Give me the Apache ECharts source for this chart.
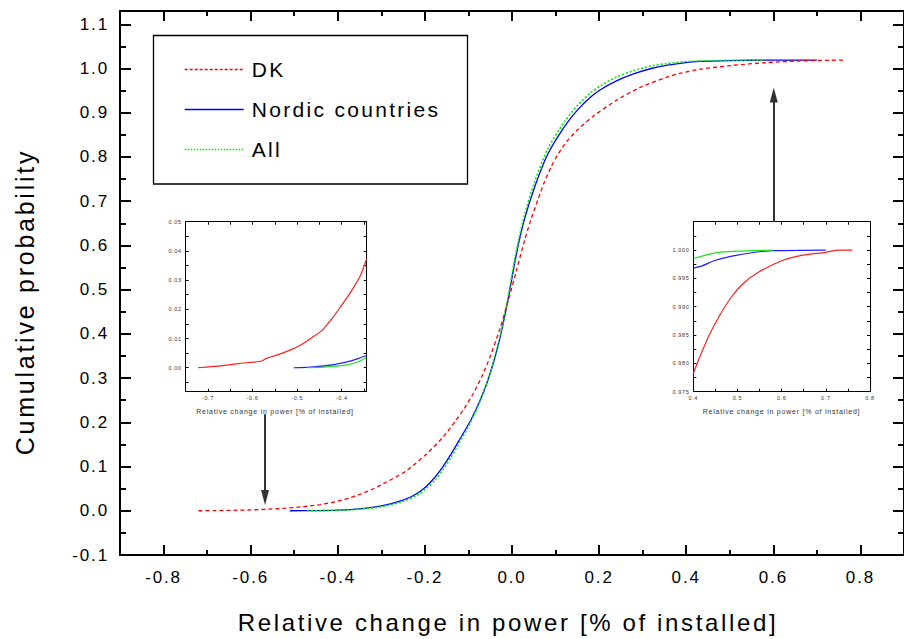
<!DOCTYPE html>
<html>
<head>
<meta charset="utf-8">
<script src="https://cdn.jsdelivr.net/npm/echarts@6/dist/echarts.min.js"></script>
<style>
html, body { margin: 0; padding: 0; background: #fff; }
#chart { width: 904px; height: 639px; }
/* the original export uses wide letter spacing */
#chart text { letter-spacing: 0.11em; }
</style>
</head>
<body>
<div id="chart"></div>
<script>
// ---- main plot curves [x, cumulative probability] ----
var dk = [[-0.72,0],[-0.68,0.0004],[-0.64,0.0011],[-0.60,0.002],[-0.56,0.0036],[-0.52,0.0058],[-0.48,0.0092],[-0.44,0.014],[-0.40,0.0215],[-0.36,0.033],[-0.32,0.049],[-0.288,0.065],[-0.243,0.090],[-0.197,0.128],[-0.159,0.166],[-0.129,0.204],[-0.11,0.231],[-0.09,0.263],[-0.07,0.302],[-0.05,0.349],[-0.03,0.405],[-0.01,0.470],[0.01,0.543],[0.03,0.615],[0.043,0.657],[0.06,0.705],[0.075,0.745],[0.09,0.778],[0.105,0.805],[0.125,0.834],[0.15,0.861],[0.188,0.893],[0.241,0.929],[0.294,0.957],[0.354,0.980],[0.39,0.990],[0.43,0.998],[0.506,1.007],[0.581,1.013],[0.657,1.017],[0.76,1.019]];
var nordic = [[-0.51,0],[-0.45,0.0005],[-0.40,0.0016],[-0.35,0.0045],[-0.30,0.011],[-0.25,0.024],[-0.22,0.038],[-0.197,0.055],[-0.175,0.078],[-0.159,0.099],[-0.14,0.128],[-0.122,0.158],[-0.095,0.204],[-0.07,0.257],[-0.05,0.311],[-0.03,0.381],[-0.01,0.473],[0.01,0.58],[0.028,0.657],[0.052,0.732],[0.082,0.806],[0.12,0.868],[0.15,0.906],[0.18,0.935],[0.203,0.952],[0.24,0.972],[0.279,0.988],[0.32,1.000],[0.354,1.007],[0.39,1.012],[0.43,1.016],[0.5,1.018],[0.6,1.019],[0.70,1.019]];
var all = [[-0.47,0],[-0.43,0.0003],[-0.40,0.0009],[-0.35,0.0035],[-0.30,0.009],[-0.25,0.021],[-0.22,0.034],[-0.197,0.050],[-0.175,0.071],[-0.159,0.092],[-0.14,0.121],[-0.122,0.152],[-0.095,0.200],[-0.07,0.255],[-0.05,0.311],[-0.03,0.384],[-0.01,0.478],[0.01,0.588],[0.028,0.666],[0.052,0.744],[0.082,0.818],[0.12,0.879],[0.15,0.916],[0.18,0.945],[0.203,0.961],[0.24,0.981],[0.279,0.995],[0.32,1.006],[0.354,1.011],[0.39,1.015],[0.43,1.017],[0.5,1.0185],[0.58,1.019]];

// ---- left inset (lower tail) ----
var leftDK = [[-0.7226,0],[-0.666,0.0007],[-0.629,0.0015],[-0.598,0.0019],[-0.58,0.0023],[-0.568,0.0033],[-0.546,0.0043],[-0.512,0.0063],[-0.493,0.0077],[-0.467,0.0103],[-0.444,0.0128],[-0.422,0.0168],[-0.403,0.0208],[-0.38,0.0259],[-0.358,0.0316],[-0.344,0.0373]];
var leftNordic = [[-0.508,0],[-0.463,0.0003],[-0.418,0.0011],[-0.388,0.002],[-0.362,0.0032],[-0.344,0.0042]];
var leftAll = [[-0.478,0],[-0.433,0.0003],[-0.395,0.0008],[-0.369,0.0017],[-0.344,0.0034]];

// ---- right inset (upper tail) ----
var rightDK = [[0.4,0.9782],[0.415,0.9812],[0.438,0.9853],[0.46,0.9885],[0.487,0.9918],[0.513,0.9941],[0.55,0.9962],[0.603,0.9982],[0.648,0.9991],[0.70,0.9996],[0.73,1.0],[0.76,1.0]];
var rightNordic = [[0.4,0.9968],[0.42,0.9972],[0.45,0.9982],[0.5,0.9991],[0.55,0.9997],[0.58,0.9999],[0.7,1.0]];
var rightAll = [[0.4,0.9985],[0.45,0.9995],[0.5,0.9998],[0.58,1.0]];

// ---- ticks ----
var xMajor = [-0.8,-0.6,-0.4,-0.2,0,0.2,0.4,0.6,0.8];
var xMinor = [-0.9,-0.7,-0.5,-0.3,-0.1,0.1,0.3,0.5,0.7,0.9];
var yMajor = [-0.1,0,0.1,0.2,0.3,0.4,0.5,0.6,0.7,0.8,0.9,1.0,1.1];
var yMinor = [-0.05,0.05,0.15,0.25,0.35,0.45,0.55,0.65,0.75,0.85,0.95,1.05];
var lxLabels = [-0.7,-0.6,-0.5,-0.4];
var lxTicks = [-0.75,-0.7,-0.65,-0.6,-0.55,-0.5,-0.45,-0.4,-0.35];
var lyLabels = [0,0.01,0.02,0.03,0.04,0.05];
var lyTicks = [-0.005,0,0.005,0.01,0.015,0.02,0.025,0.03,0.035,0.04,0.045,0.05];
var rxLabels = [0.4,0.5,0.6,0.7,0.8];
var rxTicks = [0.4,0.45,0.5,0.55,0.6,0.65,0.7,0.75,0.8];
var ryLabels = [0.975,0.98,0.985,0.99,0.995,1.0];
var ryTicks = [0.975,0.9775,0.98,0.9825,0.985,0.9875,0.99,0.9925,0.995,0.9975,1.0,1.0025];

var FONT = '"Liberation Sans", Arial, sans-serif';
var RED = '#ff0000', BLUE = '#0000ff', GREEN = '#00ee00';

function mkAxis(o) {
  return {
    type: 'value', gridIndex: o.grid, position: o.pos, min: o.min, max: o.max,
    axisLine: { show: o.line !== false, onZero: false, lineStyle: { color: '#000', width: o.lw || 1 } },
    axisTick: { show: true, inside: true, length: o.len, customValues: o.ticks,
      lineStyle: { color: '#000', width: o.tw || 1 } },
    axisLabel: o.labels ? {
      show: true, customValues: o.labels, showMinLabel: true, showMaxLabel: true,
      formatter: function (v) { return v.toFixed(o.dec); },
      fontSize: o.fs, fontFamily: FONT, color: o.lc || '#000', margin: o.margin
    } : { show: false },
    splitLine: { show: false },
    minorTick: { show: false }
  };
}

var xAxes = [
  mkAxis({grid:0,pos:'bottom',min:-0.9,max:0.9,ticks:xMajor,len:10,lw:2,tw:2,labels:xMajor,dec:1,fs:17,margin:14}),
  mkAxis({grid:0,pos:'bottom',min:-0.9,max:0.9,ticks:xMinor,len:5,line:false,tw:2}),
  mkAxis({grid:0,pos:'top',min:-0.9,max:0.9,ticks:xMajor,len:10,lw:2,tw:2}),
  mkAxis({grid:0,pos:'top',min:-0.9,max:0.9,ticks:xMinor,len:5,line:false,tw:2}),
  mkAxis({grid:1,pos:'bottom',min:-0.75,max:-0.344,ticks:lxTicks,len:3,labels:lxLabels,dec:1,fs:5.5,lc:'#333',margin:3}),
  mkAxis({grid:1,pos:'top',min:-0.75,max:-0.344,ticks:lxTicks,len:3}),
  mkAxis({grid:2,pos:'bottom',min:0.4,max:0.8,ticks:rxTicks,len:3,labels:rxLabels,dec:1,fs:5.5,lc:'#333',margin:3}),
  mkAxis({grid:2,pos:'top',min:0.4,max:0.8,ticks:rxTicks,len:3})
];
var yAxes = [
  mkAxis({grid:0,pos:'left',min:-0.1,max:1.13,ticks:yMajor,len:11,lw:2,tw:2,labels:yMajor,dec:1,fs:17,margin:11}),
  mkAxis({grid:0,pos:'left',min:-0.1,max:1.13,ticks:yMinor,len:6,line:false,tw:2}),
  mkAxis({grid:0,pos:'right',min:-0.1,max:1.13,ticks:yMajor,len:11,lw:2,tw:2}),
  mkAxis({grid:0,pos:'right',min:-0.1,max:1.13,ticks:yMinor,len:6,line:false,tw:2}),
  mkAxis({grid:1,pos:'left',min:-0.0082,max:0.05,ticks:lyTicks,len:3,labels:lyLabels,dec:2,fs:5.5,lc:'#333',margin:4}),
  mkAxis({grid:1,pos:'right',min:-0.0082,max:0.05,ticks:lyTicks,len:3}),
  mkAxis({grid:2,pos:'left',min:0.975,max:1.005,ticks:ryTicks,len:3,labels:ryLabels,dec:3,fs:5.5,lc:'#333',margin:4}),
  mkAxis({grid:2,pos:'right',min:0.975,max:1.005,ticks:ryTicks,len:3})
];

function line(name, data, xi, color, type, width, z) {
  return {
    name: name, type: 'line', data: data, xAxisIndex: xi, yAxisIndex: xi,
    symbol: 'none', smooth: 0.25, z: z, silent: true,
    lineStyle: { color: color, type: type, width: width },
    itemStyle: { color: color }
  };
}

var series = [
  line('Nordic countries', nordic, 0, BLUE, 'solid', 1.3, 2),
  line('All', all, 0, GREEN, [2, 2], 1.6, 3),
  line('DK', dk, 0, RED, [4, 3], 1.3, 4),
  line('DK tail', leftDK, 4, '#ff2020', 'solid', 1.2, 2),
  line('Nordic tail', leftNordic, 4, '#2020ff', 'solid', 1.2, 2),
  line('All tail', leftAll, 4, '#20dd20', 'solid', 1.2, 2),
  line('DK top', rightDK, 6, '#ff2020', 'solid', 1.2, 2),
  line('Nordic top', rightNordic, 6, '#2020ff', 'solid', 1.2, 2),
  line('All top', rightAll, 6, '#20dd20', 'solid', 1.2, 3)
];

// arrows from the insets to the tails of the main curves
series[2].markLine = {
  silent: true, animation: false,
  symbol: ['none', 'triangle'], symbolSize: [8, 15],
  label: { show: false },
  lineStyle: { color: '#333', width: 2, type: 'solid' },
  data: [
    [{ coord: [-0.567, 0.218] }, { coord: [-0.567, 0.03] }],
    [{ coord: [0.601, 0.653] }, { coord: [0.601, 0.94] }]
  ]
};

var chart = echarts.init(document.getElementById('chart'), null, { renderer: 'svg' });
chart.setOption({
  animation: false,
  backgroundColor: '#fff',
  grid: [
    { left: 120, top: 11, width: 794, height: 544 },
    { left: 185.7, top: 221.7, width: 181, height: 170 },
    { left: 693.3, top: 221.7, width: 176.7, height: 170 }
  ],
  xAxis: xAxes,
  yAxis: yAxes,
  legend: {
    data: [
      { name: 'DK', itemStyle: { opacity: 0 }, lineStyle: { color: RED, type: [3, 2], width: 1.3 } },
      { name: 'Nordic countries', itemStyle: { opacity: 0 }, lineStyle: { color: BLUE, type: 'solid', width: 1.3 } },
      { name: 'All', itemStyle: { opacity: 0 }, lineStyle: { color: GREEN, type: [1.5, 1.5], width: 1.4 } }
    ],
    orient: 'vertical', left: 184, top: 59, padding: 0,
    itemWidth: 59, itemHeight: 14, itemGap: 19, selectedMode: false,
    textStyle: { fontSize: 21, color: '#000', fontFamily: FONT, padding: [0, 0, 0, 3] }
  },
  graphic: [
    { type: 'rect', z: 1, shape: { x: 153.5, y: 35.5, width: 314, height: 148.5 },
      style: { fill: '#fff', stroke: '#000', lineWidth: 1.3 } },
    { type: 'text', x: 508, y: 622, style: { text: 'Relative change in power [% of installed]',
      fontSize: 24, fontFamily: FONT, fill: '#000', textAlign: 'center', textVerticalAlign: 'middle' } },
    { type: 'text', x: 25, y: 302, rotation: Math.PI / 2, style: { text: 'Cumulative probability',
      fontSize: 25, fontFamily: FONT, fill: '#000', textAlign: 'center', textVerticalAlign: 'middle' } },
    { type: 'text', x: 275, y: 411.7, style: { text: 'Relative change in power [% of installed]',
      fontSize: 7, fontFamily: FONT, fill: '#333', textAlign: 'center', textVerticalAlign: 'middle' } },
    { type: 'text', x: 781.5, y: 411, style: { text: 'Relative change in power [% of installed]',
      fontSize: 7, fontFamily: FONT, fill: '#333', textAlign: 'center', textVerticalAlign: 'middle' } }
  ],
  series: series
});
</script>
</body>
</html>
